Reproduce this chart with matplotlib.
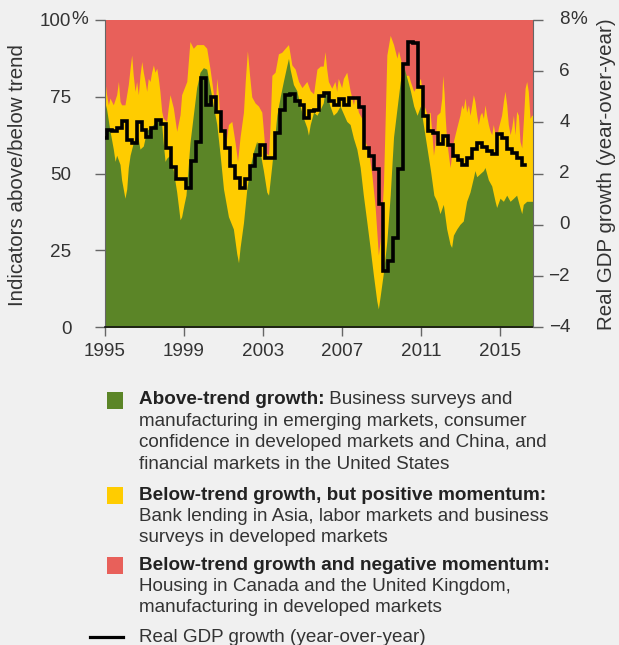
import numpy as np
import matplotlib
matplotlib.use('Agg')
import matplotlib.pyplot as plt
import matplotlib.transforms as mtransforms
from matplotlib.patches import Rectangle
from matplotlib.lines import Line2D

BG = '#f0f0f0'
GRN = '#5b8527'
YEL = '#ffcc00'
RED = '#e8605a'
TXT = '#333333'
plt.rcParams['font.family'] = ['Liberation Sans', 'DejaVu Sans']

# share of indicators above trend (green)
above_yr = [1995.00, 1995.08, 1995.25, 1995.42, 1995.51, 1995.59, 1995.76, 1995.84, 1996.01, 1996.10,
            1996.18, 1996.27, 1996.43, 1996.60, 1996.69, 1996.77, 1996.94, 1997.11, 1997.28, 1997.45,
            1997.62, 1997.78, 1997.87, 1997.95, 1998.04, 1998.12, 1998.29, 1998.46, 1998.63, 1998.80,
            1998.88, 1999.00, 1999.10, 1999.22, 1999.30, 1999.47, 1999.64, 1999.81, 1999.98, 2000.15,
            2000.32, 2000.49, 2000.66, 2000.83, 2001.00, 2001.25, 2001.50, 2001.67, 2001.76, 2001.84,
            2002.01, 2002.18, 2002.34, 2002.51, 2002.68, 2002.85, 2003.02, 2003.19, 2003.28, 2003.45,
            2003.61, 2003.70, 2003.87, 2004.03, 2004.20, 2004.29, 2004.37, 2004.54, 2004.71, 2004.88,
            2005.05, 2005.22, 2005.30, 2005.39, 2005.56, 2005.73, 2005.90, 2006.05, 2006.14, 2006.22,
            2006.39, 2006.56, 2006.73, 2006.90, 2007.24, 2007.41, 2007.58, 2007.75, 2007.92, 2008.08,
            2008.25, 2008.42, 2008.59, 2008.76, 2008.84, 2008.93, 2009.10, 2009.27, 2009.44, 2009.61,
            2009.78, 2009.95, 2010.12, 2010.29, 2010.46, 2010.63, 2010.80, 2010.97, 2011.14, 2011.31,
            2011.48, 2011.65, 2011.80, 2011.96, 2012.13, 2012.30, 2012.47, 2012.55, 2012.64, 2012.81,
            2012.97, 2013.14, 2013.31, 2013.48, 2013.65, 2013.73, 2013.82, 2013.99, 2014.16, 2014.24,
            2014.41, 2014.58, 2014.75, 2014.83, 2015.00, 2015.17, 2015.34, 2015.51, 2015.68, 2015.84,
            2016.01, 2016.10, 2016.18, 2016.35, 2016.52, 2016.67]
above = [73, 71, 64, 58, 54, 56, 53, 48, 42, 45,
         52, 56, 60, 63, 61, 58, 59, 64, 65, 66,
         67, 68, 66, 60, 54, 55, 56, 51, 44, 35,
         36, 40, 43, 53, 60, 69, 78, 83, 84.5, 84,
         78, 72, 66, 56, 45, 36, 32, 24, 21, 26,
         34, 45, 52, 57, 60.5, 57, 51, 44, 43, 53,
         63, 69, 75, 80, 85, 87.5, 84, 79, 77, 72,
         68, 65, 62.5, 66, 70, 69, 71, 73, 77, 76,
         72, 69, 70, 72, 67, 66, 61.5, 58, 52, 43,
         34.6, 26, 17, 8.6, 6, 10, 18, 28, 43, 62,
         71, 80, 85, 81, 77, 72, 69, 72, 65, 58,
         51, 43, 41, 37, 40, 32, 27, 26, 30, 32,
         33.5, 34.6, 41, 44, 48.6, 51, 49, 50, 51, 52,
         48, 46, 41, 39, 42, 41, 43, 41, 42, 43,
         39, 37, 40, 41, 41, 41]

# share above trend + below trend with positive momentum (top of yellow)
notneg_yr = [1995.00, 1995.08, 1995.17, 1995.25, 1995.42, 1995.59, 1995.68, 1995.76, 1995.84, 1996.01,
             1996.18, 1996.27, 1996.35, 1996.43, 1996.52, 1996.60, 1996.69, 1996.77, 1996.86, 1996.94,
             1997.03, 1997.11, 1997.19, 1997.28, 1997.36, 1997.45, 1997.53, 1997.62, 1997.70, 1997.78,
             1997.87, 1997.95, 1998.12, 1998.20, 1998.29, 1998.46, 1998.63, 1998.80, 1998.88, 1999.14,
             1999.22, 1999.30, 1999.47, 1999.64, 1999.98, 2000.15, 2000.32, 2000.49, 2000.57, 2000.66,
             2000.74, 2000.83, 2001.00, 2001.08, 2001.25, 2001.42, 2001.59, 2001.71, 2001.84, 2002.01,
             2002.10, 2002.21, 2002.32, 2002.43, 2002.60, 2002.77, 2002.94, 2003.02, 2003.11, 2003.28,
             2003.36, 2003.45, 2003.61, 2003.78, 2003.95, 2004.12, 2004.29, 2004.46, 2004.63, 2004.80,
             2004.97, 2005.22, 2005.39, 2005.56, 2005.73, 2005.90, 2006.05, 2006.14, 2006.22, 2006.31,
             2006.48, 2006.64, 2006.73, 2006.81, 2006.98, 2007.07, 2007.24, 2007.41, 2007.58, 2007.66,
             2007.83, 2008.00, 2008.17, 2008.34, 2008.51, 2008.68, 2008.84, 2008.93, 2009.01, 2009.10,
             2009.19, 2009.27, 2009.44, 2009.61, 2009.78, 2009.86, 2010.03, 2010.20, 2010.37, 2010.46,
             2010.63, 2010.80, 2010.97, 2011.14, 2011.31, 2011.46, 2011.54, 2011.63, 2011.71, 2011.80,
             2011.96, 2012.05, 2012.10, 2012.17, 2012.22, 2012.30, 2012.39, 2012.47, 2012.55, 2012.64,
             2012.81, 2012.97, 2013.06, 2013.14, 2013.23, 2013.31, 2013.40, 2013.48, 2013.57, 2013.65,
             2013.73, 2013.82, 2013.90, 2013.99, 2014.07, 2014.16, 2014.24, 2014.32, 2014.41, 2014.49,
             2014.58, 2014.66, 2014.75, 2014.83, 2014.92, 2015.00, 2015.08, 2015.17, 2015.25, 2015.34,
             2015.42, 2015.51, 2015.59, 2015.68, 2015.76, 2015.84, 2015.93, 2016.01, 2016.10, 2016.18,
             2016.27, 2016.35, 2016.43, 2016.52, 2016.60, 2016.67]
notneg = [80, 75.7, 72.4, 74.6, 72.4, 75.7, 80, 73.5, 72.4, 72.4,
          79, 84.3, 88.6, 82, 76.8, 80, 75.7, 82, 86.5, 83,
          80, 76.8, 81, 80, 83, 85.4, 83, 84.3, 81, 76.8,
          70.3, 68, 67, 71.4, 75.7, 71.4, 63.8, 69.2, 75.7, 80,
          86.5, 93, 90.8, 92, 92, 90.8, 84, 76, 70, 81,
          76, 66, 62, 58, 66, 67, 60, 54, 62, 70,
          80, 90, 82, 75, 73, 72, 70, 64, 57, 56,
          66, 82, 83, 89, 89.5, 90.8, 92, 85.4, 84, 80,
          78, 80, 77, 76, 84, 85, 85, 89.7, 84.3, 80,
          77.8, 80, 76.8, 81, 78, 81, 83, 77, 72.4, 75.7,
          70, 68, 60.5, 57.3, 49.7, 39, 23.5, 28, 34.6, 47,
          68.8, 88.6, 95, 92, 87.6, 90, 85.4, 82, 82, 80,
          76.8, 79, 81, 72.4, 69.2, 70, 64, 56, 60, 69,
          70, 74.6, 82, 76, 69, 60.5, 56, 52, 56, 60.5,
          65, 69, 72.4, 71, 74.6, 70, 72.4, 69, 72.4, 75.7,
          73.5, 69, 66, 69, 70, 68, 72.4, 69, 66, 64,
          62.7, 66, 62.7, 61.6, 65, 67, 69, 73.5, 76.8, 72.4,
          66, 62.7, 65, 69, 62.7, 70.3, 69, 60.5, 58.4, 67,
          77.8, 80, 76.8, 68, 69, 69]

# real GDP growth, quarterly, % year-over-year
gdp = [3.4, 3.72, 3.66, 3.78, 4.05, 3.3, 3.2, 4.0, 3.72, 3.45,
       3.8, 4.08, 3.95, 3.0, 2.25, 1.8, 1.8, 1.45, 2.5, 3.25,
       5.75, 4.7, 5.0, 4.42, 3.65, 3.0, 2.3, 1.84, 1.43, 1.78,
       2.3, 2.74, 3.1, 2.6, 2.6, 3.6, 4.5, 5.07, 5.12, 4.85,
       4.7, 4.17, 4.43, 4.5, 5.05, 5.15, 4.85, 4.7, 4.9, 4.7,
       4.95, 4.95, 4.6, 3.0, 2.7, 2.2, 0.8, -1.82, -1.42, -0.5,
       2.2, 6.3, 7.15, 7.1, 5.4, 4.25, 3.65, 3.57, 3.15, 3.47,
       3.13, 2.68, 2.55, 2.35, 2.63, 2.98, 3.18, 3.05, 2.87, 2.77,
       3.55, 3.38, 2.98, 2.8, 2.62, 2.35]
gdp_start = 1994.85
gdp_end = 2016.25

x_ticks = [1995, 1999, 2003, 2007, 2011, 2015]
left_ticks = [0, 25, 50, 75, 100]
right_ticks = [-4, -2, 0, 2, 4, 6, 8]

W, H = 619, 645
fig = plt.figure(figsize=(W / 100, H / 100), dpi=100, facecolor=BG)
ax = fig.add_axes([105 / W, 1 - 327.3 / H, 428 / W, 307.3 / H])
ax.set_facecolor(RED)
ax.fill_between(notneg_yr, 0, notneg, color=YEL, lw=0)
ax.fill_between(above_yr, 0, above, color=GRN, lw=0)
ax.set_xlim(1995, 2016.67)
ax.set_ylim(0, 100)

tfs = 13.6
ax.set_xticks(x_ticks)
ax.set_xticklabels([str(t) for t in x_ticks])
ax.set_yticks(left_ticks)
ax.set_yticklabels([str(t) for t in left_ticks])
ax.tick_params(axis='x', direction='out', length=6.5, width=1, color='#666666',
               labelsize=tfs, labelcolor=TXT, pad=5)
ax.tick_params(axis='y', direction='out', length=7.2, width=1, color='#666666',
               labelsize=tfs, labelcolor=TXT, pad=17)
for s in ['top', 'right']:
    ax.spines[s].set_visible(False)
ax.spines['left'].set_color('#666666')
ax.spines['bottom'].set_color('#111111')
ax.spines['bottom'].set_linewidth(1.2)
ax.set_ylabel('Indicators above/below trend', fontsize=14.8, color=TXT,
              ha='center', va='center')
ax.yaxis.set_label_coords((17.5 - 105) / 428, 0.497)

ax2 = ax.twinx()
gx = list(gdp_start + 0.25 * np.arange(len(gdp))) + [gdp_end]
gy = gdp + [gdp[-1]]
ax2.step(gx, gy, where='post', color='black', lw=2.6, solid_joinstyle='miter')
ax2.set_ylim(-4, 8)
ax2.set_xlim(1995, 2016.67)
ax2.set_yticks(right_ticks)
ax2.tick_params(axis='y', direction='out', length=7.2, width=1, color='#666666',
                labelright=False)
# right tick labels, right-aligned on the numbers
rt = mtransforms.blended_transform_factory(ax2.transAxes, ax2.transData)
for v in right_ticks:
    ax2.text(1 + (570 - 533) / 428, v, str(v).replace('-', '\u2212'), transform=rt,
             fontsize=tfs, color=TXT, ha='right', va='center', clip_on=False)
for s in ['top', 'left', 'bottom']:
    ax2.spines[s].set_visible(False)
ax2.spines['right'].set_color('#666666')

fig.text(607 / W, 1 - 174 / H, 'Real GDP growth (year-over-year)', fontsize=14.8,
         color=TXT, rotation=90, ha='center', va='center')

# percent signs hang beyond the aligned numbers
fig.text(71 / W, 1 - 20 / H, '%', fontsize=tfs, color=TXT, ha='left', va='center')
fig.text(570 / W, 1 - 20 / H, '%', fontsize=tfs, color=TXT, ha='left', va='center')

# legend
blocks = [
    (GRN, 'Above-trend growth:', ' Business surveys and',
     ['manufacturing in emerging markets, consumer',
      'confidence in developed markets and China, and',
      'financial markets in the United States'], 400),
    (YEL, 'Below-trend growth, but positive momentum:', '',
     ['Bank lending in Asia, labor markets and business',
      'surveys in developed markets'], 495),
    (RED, 'Below-trend growth and negative momentum:', '',
     ['Housing in Canada and the United Kingdom,',
      'manufacturing in developed markets'], 565),
]
fs = 13.6
step = 21.4
fig.canvas.draw()
rend = fig.canvas.get_renderer()
for col, head, rest, lines, yc in blocks:
    fig.add_artist(Rectangle((107 / W, 1 - (yc + 8.5) / H), 16 / W, 17 / H,
                             transform=fig.transFigure, color=col, lw=0))
    t = fig.text(139 / W, 1 - yc / H, head, fontsize=fs, fontweight='bold',
                 color='#222222', ha='left', va='center')
    if rest:
        bb = t.get_window_extent(rend)
        fig.text(bb.x1 / W, 1 - yc / H, rest, fontsize=fs, color=TXT,
                 ha='left', va='center')
    for i, ln in enumerate(lines):
        fig.text(139 / W, 1 - (yc + step * (i + 1)) / H, ln, fontsize=fs,
                 color=TXT, ha='left', va='center')

fig.add_artist(Line2D([90 / W, 123 / W], [1 - 637 / H] * 2, color='black', lw=2.3,
                      transform=fig.transFigure))
fig.text(139 / W, 1 - 638 / H, 'Real GDP growth (year-over-year)', fontsize=fs,
         color=TXT, ha='left', va='center')

fig.savefig('out.png', dpi=100, facecolor=BG)
